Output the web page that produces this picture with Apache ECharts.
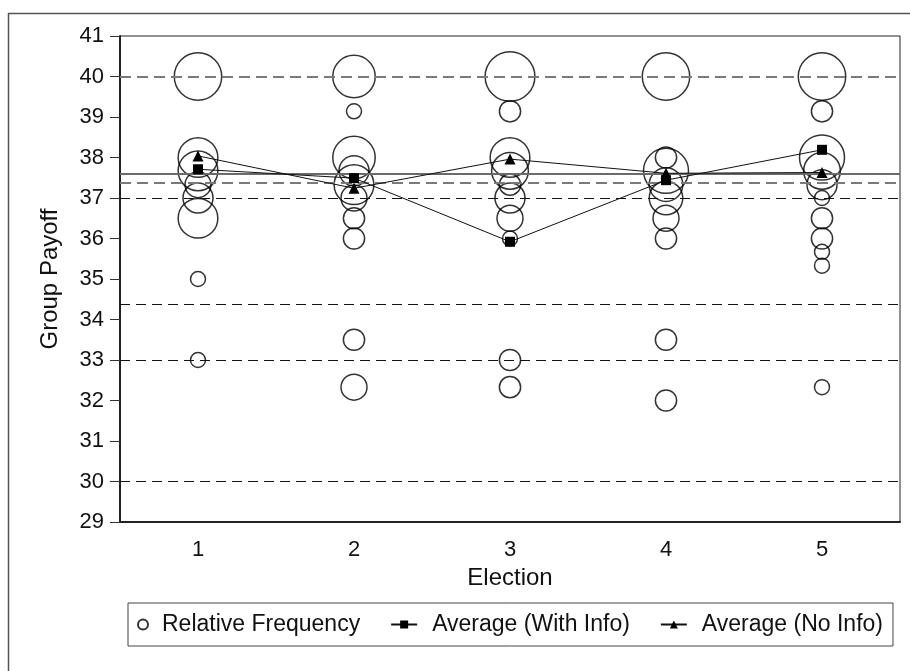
<!DOCTYPE html>
<html>
<head>
<meta charset="utf-8">
<script src="https://cdn.jsdelivr.net/npm/echarts@6/dist/echarts.min.js"></script>
<style>
html, body { margin: 0; padding: 0; background: #fff; }
#main { width: 910px; height: 671px; }
</style>
</head>
<body>
<div id="main"></div>
<script>
// elections on the x axis
var elections = ['1', '2', '3', '4', '5'];

// relative frequency circles: [payoff, number of groups]
var freqE1 = [[40, 10], [38, 7], [37.67, 7], [37.33, 3], [37, 4], [36.5, 7], [35, 1], [33, 1]];
var freqE2 = [[40, 8], [39.14, 1], [38, 8], [37.67, 4], [37.33, 7], [37, 3], [36.5, 2], [36, 2], [33.5, 2], [32.33, 3]];
var freqE3 = [[40, 11], [39.14, 2], [38, 7], [37.67, 6], [37.33, 2], [37, 4], [36.5, 3], [36, 1], [33, 2], [32.33, 2]];
var freqE4 = [[40, 10], [38, 2], [37.67, 9], [37.33, 5], [37, 5], [36.5, 3], [36, 2], [33.5, 2], [32, 2]];
var freqE5 = [[40, 10], [39.14, 2], [38, 9], [37.67, 6], [37.33, 4], [37, 1], [36.5, 2], [36, 2], [35.67, 1], [35.33, 1], [32.33, 1]];

// averages per election
var avgWithInfo = [37.71, 37.49, 35.92, 37.44, 38.19];
var avgNoInfo = [38.04, 37.24, 37.96, 37.61, 37.63];

// horizontal reference lines
var grayDashed = [40, 37.38];
var blackDashed = [37, 34.37, 33, 30];
var graySolid = [37.6];

var font = 'Arial, "Liberation Sans", sans-serif';

var bubbles = [];
[freqE1, freqE2, freqE3, freqE4, freqE5].forEach(function (arr, i) {
	arr.forEach(function (d) {
		bubbles.push([i, d[0], d[1]]);
	});
});

var myChart = echarts.init(document.getElementById('main'));

var option = {
	animation: false,
	backgroundColor: '#fff',
	graphic: [{
		type: 'rect',
		silent: true,
		shape: { x: 8.5, y: 13.5, width: 1000, height: 1000 },
		style: { fill: 'none', stroke: '#555', lineWidth: 1.5 }
	}],
	grid: {
		left: 120, right: 10, top: 36, bottom: 149,
		show: true, borderColor: '#222', borderWidth: 1
	},
	legend: {
		left: 128, top: 603,
		orient: 'horizontal',
		itemGap: 30,
		itemWidth: 26,
		itemHeight: 10,
		padding: [10, 10, 10, 9],
		borderColor: '#444',
		borderWidth: 1,
		textStyle: { fontFamily: font, fontSize: 23, color: '#111' },
		data: [
			{ name: 'Relative Frequency', textStyle: { padding: [0, 0, 0, 1] } },
			{ name: 'Average (With Info)', textStyle: { padding: [0, 0, 0, 10] } },
			{ name: 'Average (No Info)', textStyle: { padding: [0, 0, 0, 10] } }
		]
	},
	xAxis: {
		type: 'category',
		data: elections,
		name: 'Election',
		nameLocation: 'middle',
		nameGap: 43,
		nameTextStyle: { fontFamily: font, fontSize: 24, color: '#111' },
		axisLine: { lineStyle: { color: '#222', width: 2 } },
		axisTick: { alignWithLabel: true, length: 10, lineStyle: { color: '#333', width: 1 } },
		axisLabel: { fontFamily: font, fontSize: 22, color: '#111', margin: 17 },
		splitLine: { show: false }
	},
	yAxis: {
		type: 'value',
		min: 29, max: 41, interval: 1,
		name: 'Group Payoff',
		nameLocation: 'middle',
		nameGap: 58,
		nameTextStyle: { fontFamily: font, fontSize: 24, color: '#111' },
		axisLine: { show: true, lineStyle: { color: '#222', width: 2 } },
		axisTick: { show: true, length: 10, lineStyle: { color: '#333', width: 1 } },
		axisLabel: { fontFamily: font, fontSize: 22, color: '#111', margin: 16 },
		splitLine: { show: false }
	},
	series: [
		{
			name: 'Relative Frequency',
			type: 'scatter',
			data: bubbles,
			symbol: 'circle',
			symbolSize: function (v) { return 15 * Math.sqrt(v[2]); },
			itemStyle: { color: 'rgba(0,0,0,0)', borderColor: '#000', borderWidth: 1.5 },
			z: 3,
			markLine: {
				silent: true,
				symbol: 'none',
				label: { show: false },
				data: grayDashed.map(function (v) {
					return { yAxis: v, lineStyle: { color: '#7a7a7a', width: 2, type: [11, 6] } };
				}).concat(blackDashed.map(function (v) {
					return { yAxis: v, lineStyle: { color: '#111', width: 1, type: [10, 6] } };
				})).concat(graySolid.map(function (v) {
					return { yAxis: v, lineStyle: { color: '#6a6a6a', width: 2, type: 'solid' } };
				}))
			}
		},
		{
			name: 'Average (With Info)',
			type: 'line',
			data: avgWithInfo,
			symbol: 'rect',
			symbolSize: 10,
			itemStyle: { color: '#000' },
			lineStyle: { color: '#111', width: 1 },
			z: 5
		},
		{
			name: 'Average (No Info)',
			type: 'line',
			data: avgNoInfo,
			symbol: 'triangle',
			symbolSize: 11,
			itemStyle: { color: '#000' },
			lineStyle: { color: '#111', width: 1 },
			z: 5
		}
	]
};

myChart.setOption(option);
</script>
</body>
</html>
